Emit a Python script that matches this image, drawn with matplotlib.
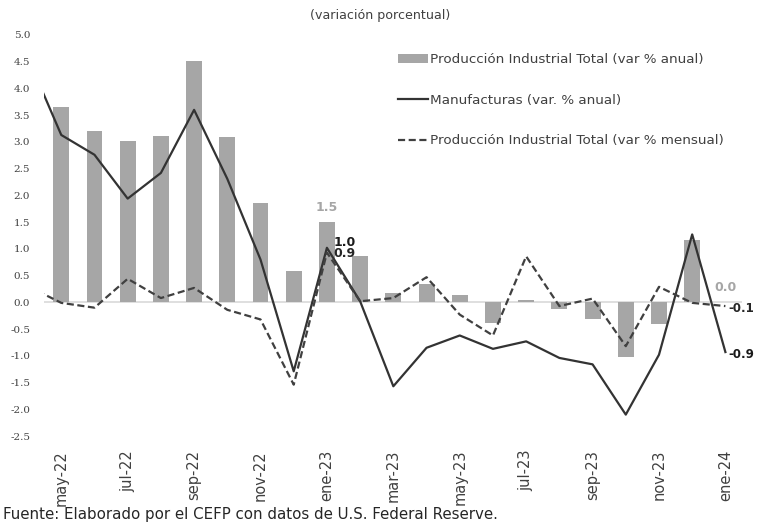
import matplotlib
matplotlib.use("Agg")
import matplotlib.pyplot as plt
import numpy as np

plt.rcParams['font.family'] = ['DejaVu Sans']

# ---------------- data ----------------
months = ["may-22", "jun-22", "jul-22", "ago-22", "sep-22", "oct-22", "nov-22",
          "dic-22", "ene-23", "feb-23", "mar-23", "abr-23", "may-23", "jun-23",
          "jul-23", "ago-23", "sep-23", "oct-23", "nov-23", "dic-23", "ene-24"]
# lines include the previous month (abr-22), partly visible at left edge
line_months = ["abr-22"] + months

ip_anual = [3.66, 3.20, 3.01, 3.12, 4.52, 3.10, 1.86, 0.59, 1.50, 0.87, 0.17,
            0.34, 0.13, -0.39, 0.05, -0.12, -0.31, -1.02, -0.40, 1.17, 0.0]
manuf_anual = [4.57, 3.13, 2.76, 1.94, 2.42, 3.60, 2.31, 0.80, -1.29, 1.02, 0.02,
               -1.57, -0.85, -0.62, -0.87, -0.73, -1.04, -1.16, -2.10, -0.98, 1.27, -0.93]
ip_mensual = [0.30, -0.01, -0.10, 0.44, 0.08, 0.27, -0.14, -0.32, -1.54, 0.93, 0.02,
              0.08, 0.47, -0.23, -0.62, 0.86, -0.07, 0.07, -0.82, 0.29, -0.01, -0.07]

labeled_months = ["ene-23", "ene-24"]
yticks = [5.0, 4.5, 4.0, 3.5, 3.0, 2.5, 2.0, 1.5, 1.0, 0.5, 0.0,
          -0.5, -1.0, -1.5, -2.0, -2.5]
xtick_labels = months[::2]

# ---------------- figure ----------------
W, H = 757, 524
fig = plt.figure(figsize=(W / 100, H / 100), dpi=100)
ax = fig.add_axes([44 / W, 1 - 436 / H, (742 - 44) / W, (436 - 35) / H])

x = np.arange(len(months))
xl = np.arange(-1, len(months))

bar_c = "#a6a6a6"
solid_c = "#333333"
dash_c = "#404040"

ax.axhline(0, color="#d9d9d9", lw=1.2, zorder=1)
hb = ax.bar(x, ip_anual, width=0.48, color=bar_c, zorder=2,
            label="Producción Industrial Total (var % anual)")
hs, = ax.plot(xl, manuf_anual, color=solid_c, lw=1.6, zorder=3,
              label="Manufacturas (var. % anual)")
hd, = ax.plot(xl, ip_mensual, color=dash_c, lw=1.6, ls=(0, (3.2, 1.6)), zorder=3,
              label="Producción Industrial Total (var % mensual)")

ax.set_xlim(-0.52, len(months) - 0.5)
ax.set_ylim(-2.5, 5.0)

for s in ax.spines.values():
    s.set_visible(False)

ax.set_yticks(yticks)
ax.set_yticklabels([f"{v:.1f}" for v in yticks], family="DejaVu Serif",
                   fontsize=7.5, color="#404040")
ax.set_xticks(x[::2])
ax.set_xticklabels(xtick_labels, rotation=90, fontsize=10.5, color="#404040")
ax.tick_params(axis="both", length=0)
ax.tick_params(axis="y", pad=10)
ax.tick_params(axis="x", pad=10)

# data labels
for m in labeled_months:
    i = months.index(m)
    ax.annotate(f"{ip_anual[i]:.1f}", (x[i], max(ip_anual[i], 0)), xytext=(0, 6),
                textcoords="offset points", ha="center", va="bottom",
                fontsize=9, color=bar_c, fontweight="bold")
    j = line_months.index(m)
    last = (m == months[-1])
    fs = 8.5 if last else 9
    ox = 2 if last else 5
    ax.annotate(f"{manuf_anual[j]:.1f}", (xl[j], manuf_anual[j]), xytext=(ox, 4 if not last else -2),
                textcoords="offset points", ha="left", va="center",
                fontsize=fs, color="#1a1a1a", fontweight="bold", zorder=5)
    ax.annotate(f"{ip_mensual[j]:.1f}", (xl[j], ip_mensual[j]), xytext=(ox, -1 if not last else -2),
                textcoords="offset points", ha="left", va="center",
                fontsize=fs, color="#262626", fontweight="bold", zorder=5)

leg = ax.legend([hb, hs, hd], [hb.get_label(), hs.get_label(), hd.get_label()],
                loc="upper left", bbox_to_anchor=(398 / W, 1 - 53 / H),
                bbox_transform=fig.transFigure, frameon=False, fontsize=9.7,
                labelspacing=2.05, handlelength=2.2, handletextpad=0.2,
                borderpad=0, borderaxespad=0)
for t in leg.get_texts():
    t.set_color("#404040")

fig.text(380 / W, 1 - 16 / H, "(variación porcentual)", ha="center", va="center",
         fontsize=9.1, color="#404040")
fig.text(3 / W, 1 - 515 / H,
         "Fuente: Elaborado por el CEFP con datos de U.S. Federal Reserve.",
         ha="left", va="center", fontsize=10.8, color="#262626")

fig.savefig("out.png", dpi=100, facecolor="white")
